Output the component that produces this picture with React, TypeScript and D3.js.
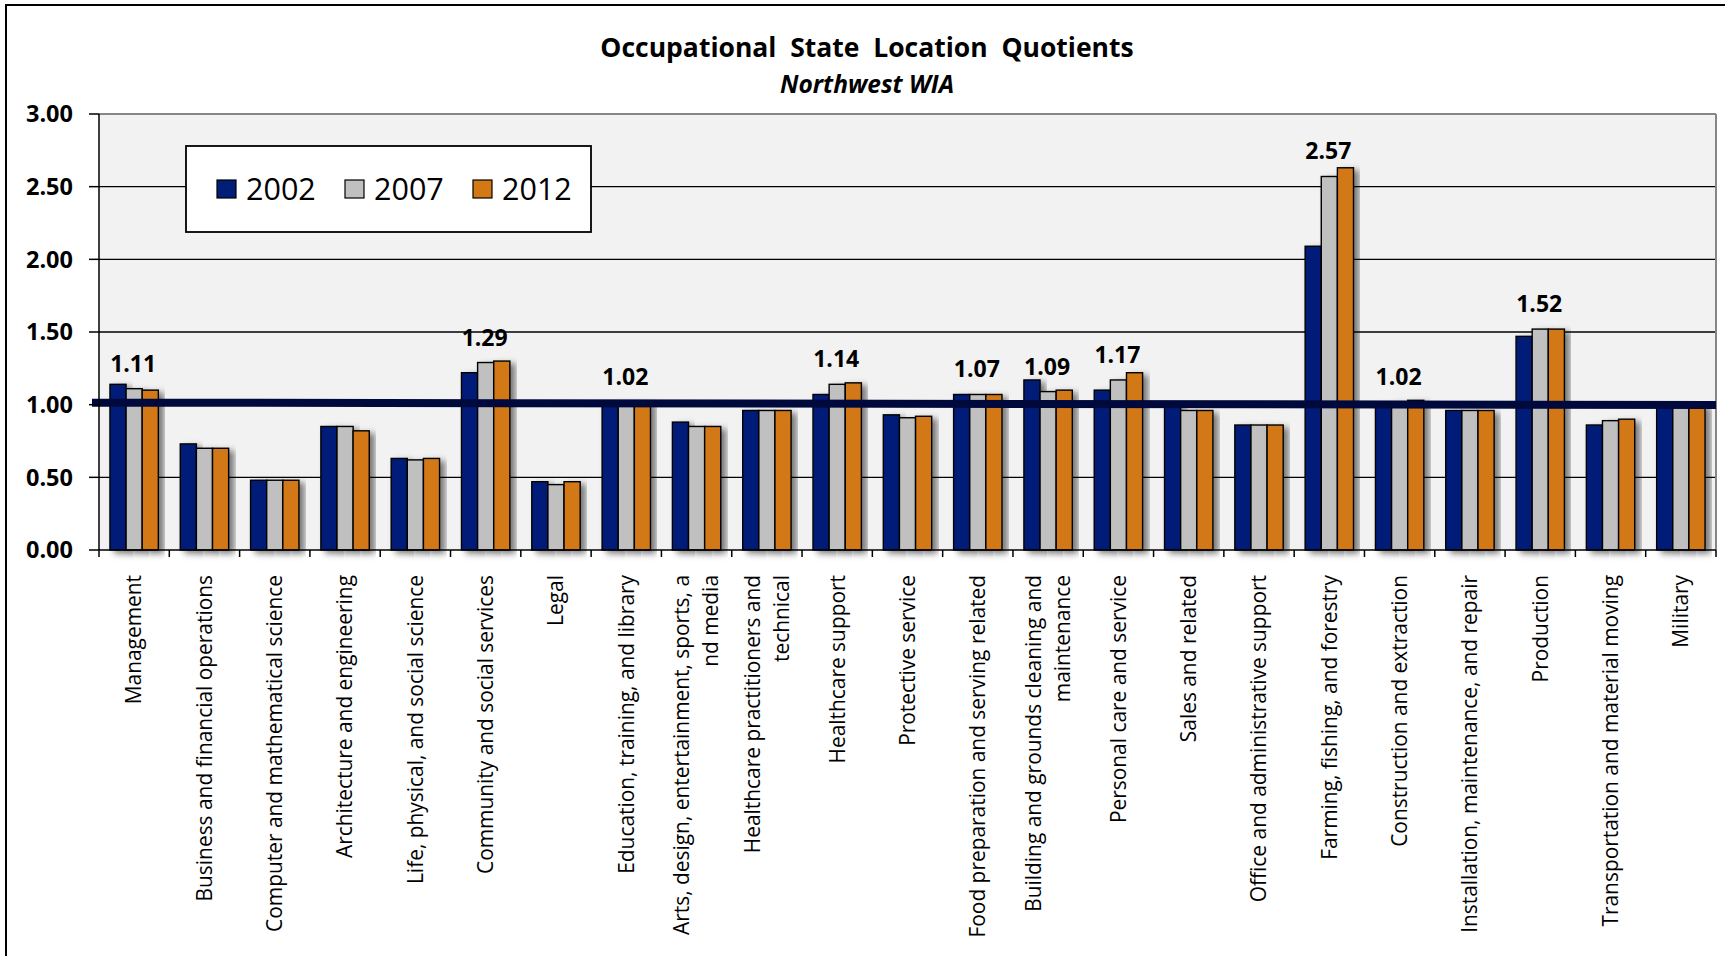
import React from "react";
import * as d3 from "d3";

// occupational groups (wrapped labels use "\n")
const categories = [
  "Management",
  "Business and financial operations",
  "Computer and mathematical science",
  "Architecture and engineering",
  "Life, physical, and social science",
  "Community and social services",
  "Legal",
  "Education, training, and library",
  "Arts, design, entertainment, sports, a\nnd media",
  "Healthcare practitioners and\ntechnical",
  "Healthcare support",
  "Protective service",
  "Food preparation and serving related",
  "Building and grounds cleaning and\nmaintenance",
  "Personal care and service",
  "Sales and related",
  "Office and administrative support",
  "Farming, fishing, and forestry",
  "Construction and extraction",
  "Installation, maintenance, and repair",
  "Production",
  "Transportation and material moving",
  "Military",
];

const years = ["2002", "2007", "2012"];
const colors = ["#001e78", "#c0c0c0", "#d27815"];

const v2002 = [1.14, 0.73, 0.48, 0.85, 0.63, 1.22, 0.47, 1.01, 0.88, 0.96, 1.07, 0.93, 1.07, 1.17, 1.10, 1.00, 0.86, 2.09, 1.01, 0.96, 1.47, 0.86, 1.00];
const v2007 = [1.11, 0.70, 0.48, 0.85, 0.62, 1.29, 0.45, 1.02, 0.85, 0.96, 1.14, 0.91, 1.07, 1.09, 1.17, 0.96, 0.86, 2.57, 1.02, 0.96, 1.52, 0.89, 1.00];
const v2012 = [1.10, 0.70, 0.48, 0.82, 0.63, 1.30, 0.47, 1.02, 0.85, 0.96, 1.15, 0.92, 1.07, 1.10, 1.22, 0.96, 0.86, 2.63, 1.03, 0.96, 1.52, 0.90, 1.00];

// value labels shown above some groups
const valueLabels = [1.11, null, null, null, null, 1.29, null, 1.02, null, null, 1.14, null, 1.07, 1.09, 1.17, null, null, 2.57, 1.02, null, 1.52, null, null];

const yTicks = [0, 0.5, 1, 1.5, 2, 2.5, 3];

// benchmark line (drawn slightly sloped in the original)
const refLine = [1.014, 0.998];

const W = 1725;
const H = 956;
const left = 99;
const right = 1716;
const top = 114;
const bottom = 550;
const font = "'Open Sans', 'Noto Sans', sans-serif";

export default function App() {
  const series = [v2002, v2007, v2012];

  const x0 = d3.scaleBand<number>().domain(d3.range(categories.length)).range([left, right]);
  const x1 = d3.scaleBand<number>().domain(d3.range(years.length)).range([0, x0.bandwidth()]).paddingOuter(0.68);
  const y = d3.scaleLinear().domain([0, 3]).range([bottom, top]);
  const fmt = d3.format(".2f");

  const boundaries = d3.range(categories.length + 1).map((i) => left + i * x0.step());

  return (
    <svg width={W} height={H} style={{ position: "absolute", left: 0, top: 0, background: "#fff" }}>
      <defs>
        <filter id="shadow" x="-20%" y="-10%" width="160%" height="130%">
          <feDropShadow dx="5" dy="3" stdDeviation="3" floodColor="#000" floodOpacity="0.5" />
        </filter>
      </defs>

      {/* outer frame */}
      <rect x={6} y={5} width={W + 20} height={H + 20} fill="#fff" stroke="#000" strokeWidth={2} />

      {/* title */}
      <text x={867} y={57} textAnchor="middle" fontFamily={font} fontWeight="bold" fontSize={26.5} style={{ whiteSpace: "pre" }}>
        {"Occupational  State  Location  Quotients"}
      </text>
      <text x={867} y={93} textAnchor="middle" fontFamily={font} fontWeight="bold" fontStyle="italic" fontSize={24.5}>
        Northwest WIA
      </text>

      {/* plot area */}
      <rect x={left} y={top} width={right - left} height={bottom - top} fill="#f2f2f2" />
      {yTicks.slice(1, -1).map((t) => (
        <line key={t} x1={left} x2={right} y1={y(t)} y2={y(t)} stroke="#000" strokeWidth={1.3} />
      ))}
      <line x1={left} x2={right} y1={top} y2={top} stroke="#868686" strokeWidth={2} />
      <line x1={right} x2={right} y1={top} y2={bottom} stroke="#868686" strokeWidth={2} />

      {/* bars */}
      {categories.map((c, i) => (
        <g key={c} transform={`translate(${x0(i)},0)`}>
          {series.map((s, k) => (
            <rect
              key={k}
              x={x1(k)}
              y={y(s[i])}
              width={x1.bandwidth()}
              height={y(0) - y(s[i])}
              fill={colors[k]}
              stroke="#000"
              strokeWidth={1.4}
              filter="url(#shadow)"
            />
          ))}
        </g>
      ))}

      {/* benchmark line */}
      <line x1={92} x2={right} y1={y(refLine[0])} y2={y(refLine[1])} stroke="#00093c" strokeWidth={8} />

      {/* value labels */}
      {valueLabels.map((v, i) =>
        v == null ? null : (
          <text key={i} x={x0(i)! + x0.bandwidth() / 2 - 1} y={y(v) - 17} textAnchor="middle" fontFamily={font} fontWeight="bold" fontSize={23}>
            {fmt(v)}
          </text>
        )
      )}

      {/* axes */}
      <line x1={left} x2={left} y1={top} y2={bottom} stroke="#000" strokeWidth={1.5} />
      <line x1={left} x2={right} y1={bottom} y2={bottom} stroke="#000" strokeWidth={1.5} />
      {yTicks.map((t) => (
        <g key={t}>
          <line x1={left - 10} x2={left} y1={y(t)} y2={y(t)} stroke="#000" strokeWidth={1.5} />
          <text x={73} y={y(t)} dy="0.36em" textAnchor="end" fontFamily={font} fontWeight="bold" fontSize={23.5}>
            {fmt(t)}
          </text>
        </g>
      ))}
      {boundaries.map((bx, i) => (
        <line key={i} x1={bx} x2={bx} y1={bottom} y2={bottom + 7} stroke="#000" strokeWidth={1.5} />
      ))}

      {/* category labels */}
      {categories.map((c, i) => {
        const lines = c.split("\n");
        const cx = x0(i)! + x0.bandwidth() / 2;
        return (
          <g key={c} transform={`translate(${cx},575) rotate(-90)`}>
            {lines.map((ln, j) => (
              <text
                key={j}
                x={0}
                y={(j - (lines.length - 1) / 2) * 29}
                dy="0.35em"
                textAnchor="end"
                fontFamily={font}
                fontSize={20.9}
              >
                {ln}
              </text>
            ))}
          </g>
        );
      })}

      {/* legend */}
      <rect x={186} y={146} width={405} height={86} fill="#fff" stroke="#000" strokeWidth={1.8} />
      {years.map((yr, k) => (
        <g key={yr} transform={`translate(${217 + k * 128},180)`}>
          <rect x={0} y={0} width={19} height={18} fill={colors[k]} stroke="#000" strokeWidth={1.2} />
          <text x={29} y={19.5} fontFamily={font} fontSize={30.5}>
            {yr}
          </text>
        </g>
      ))}
    </svg>
  );
}
